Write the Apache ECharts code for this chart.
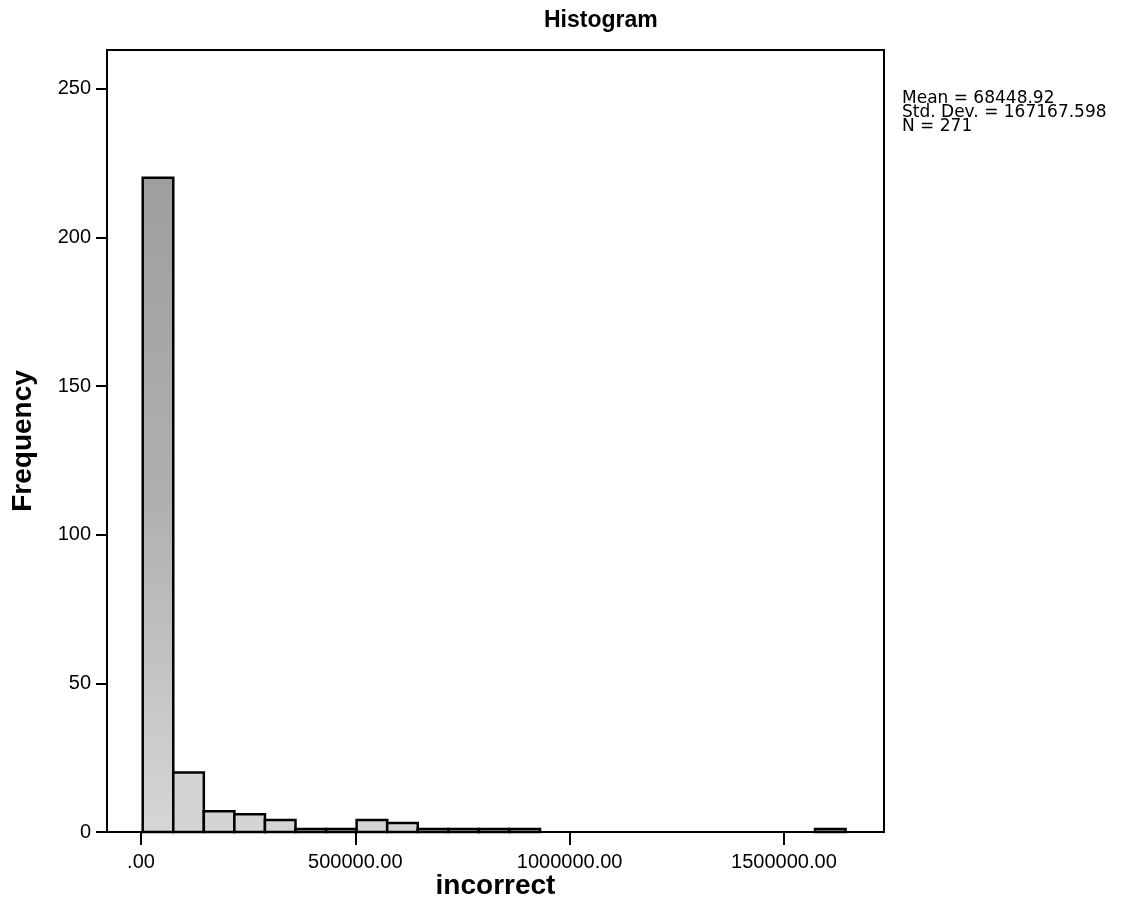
<!DOCTYPE html>
<html>
<head>
<meta charset="utf-8">
<script src="https://cdn.jsdelivr.net/npm/echarts@6/dist/echarts.min.js"></script>
<style>
html,body{margin:0;padding:0;background:#fff;}
#chart{width:1134px;height:919px;}
</style>
</head>
<body>
<div id="chart"></div>
<script>
// Histogram of "incorrect" (23 equal-width bins)
const binStart = 4000;
const binWidth = 71300;
const counts = [220, 20, 7, 6, 4, 1, 1, 4, 3, 1, 1, 1, 1, 0, 0, 0, 0, 0, 0, 0, 0, 0, 1];
const yTicks = [0, 50, 100, 150, 200, 250];
const xTicks = [0, 500000, 1000000, 1500000];
const xTickLabels = ['.00', '500000.00', '1000000.00', '1500000.00'];
const statsLines = ['Mean = 68448.92', 'Std. Dev. = 167167.598', 'N = 271'];

const binData = counts.map((c, i) => [binStart + i * binWidth, binStart + (i + 1) * binWidth, c, i]);

const chart = echarts.init(document.getElementById('chart'), null, {renderer: 'canvas'});
const FONT = '"Liberation Sans", Arial, sans-serif';
const FONT2 = 'DejaVu Sans';

chart.setOption({
  backgroundColor: '#fff',
  animation: false,
  title: {
    text: 'Histogram',
    left: 539,
    top: 4,
    textStyle: {fontFamily: FONT, fontWeight: 'bold', fontSize: 23, color: '#000'}
  },
  grid: {
    left: 107, right: 250, top: 50, bottom: 87,
    show: true, borderColor: '#000', borderWidth: 2, backgroundColor: '#fff'
  },
  xAxis: {
    type: 'value',
    min: -79300,
    max: 1733500,
    name: 'incorrect',
    nameLocation: 'middle',
    nameGap: 40,
    nameMoveOverlap: false,
    nameTextStyle: {fontFamily: FONT, fontWeight: 'bold', fontSize: 28, color: '#000'},
    splitLine: {show: false},
    axisLine: {show: true, onZero: false, lineStyle: {color: '#000', width: 2}},
    axisTick: {show: true, length: 13, lineStyle: {color: '#000', width: 2}, customValues: xTicks},
    axisLabel: {
      margin: 20,
      fontFamily: FONT, fontSize: 20, color: '#000',
      customValues: xTicks,
      formatter: (v) => xTickLabels[xTicks.indexOf(v)] || ''
    }
  },
  yAxis: {
    type: 'value',
    min: 0,
    max: 263,
    name: 'Frequency',
    nameLocation: 'middle',
    nameGap: 70,
    nameMoveOverlap: false,
    nameTextStyle: {fontFamily: FONT, fontWeight: 'bold', fontSize: 28, color: '#000'},
    splitLine: {show: false},
    axisLine: {show: true, onZero: false, lineStyle: {color: '#000', width: 2}},
    axisTick: {show: true, length: 11, lineStyle: {color: '#000', width: 2}, customValues: yTicks},
    axisLabel: {
      margin: 16,
      fontFamily: FONT, fontSize: 20, color: '#000',
      customValues: yTicks
    }
  },
  graphic: [{
    type: 'text',
    left: 902,
    top: 90,
    style: {
      text: statsLines.join('\n'),
      fontFamily: FONT2, fontSize: 17, lineHeight: 14, fill: '#000'
    }
  }],
  series: [{
    type: 'custom',
    data: binData,
    encode: {x: [0, 1], y: 2},
    renderItem: function (params, api) {
      const c = api.value(2);
      if (!c) return null;
      const p0 = api.coord([api.value(0), 0]);
      const p1 = api.coord([api.value(1), c]);
      const big = api.value(3) === 0;
      return {
        type: 'rect',
        shape: {x: p0[0], y: p1[1], width: p1[0] - p0[0], height: p0[1] - p1[1]},
        style: {
          fill: big ? new echarts.graphic.LinearGradient(0, 0, 0, 1, [
            {offset: 0, color: '#9e9e9e'},
            {offset: 0.5, color: '#b0b0b0'},
            {offset: 1, color: '#d6d6d6'}
          ]) : '#d4d4d4',
          stroke: '#000',
          lineWidth: 2.5
        }
      };
    }
  }]
});
</script>
</body>
</html>
